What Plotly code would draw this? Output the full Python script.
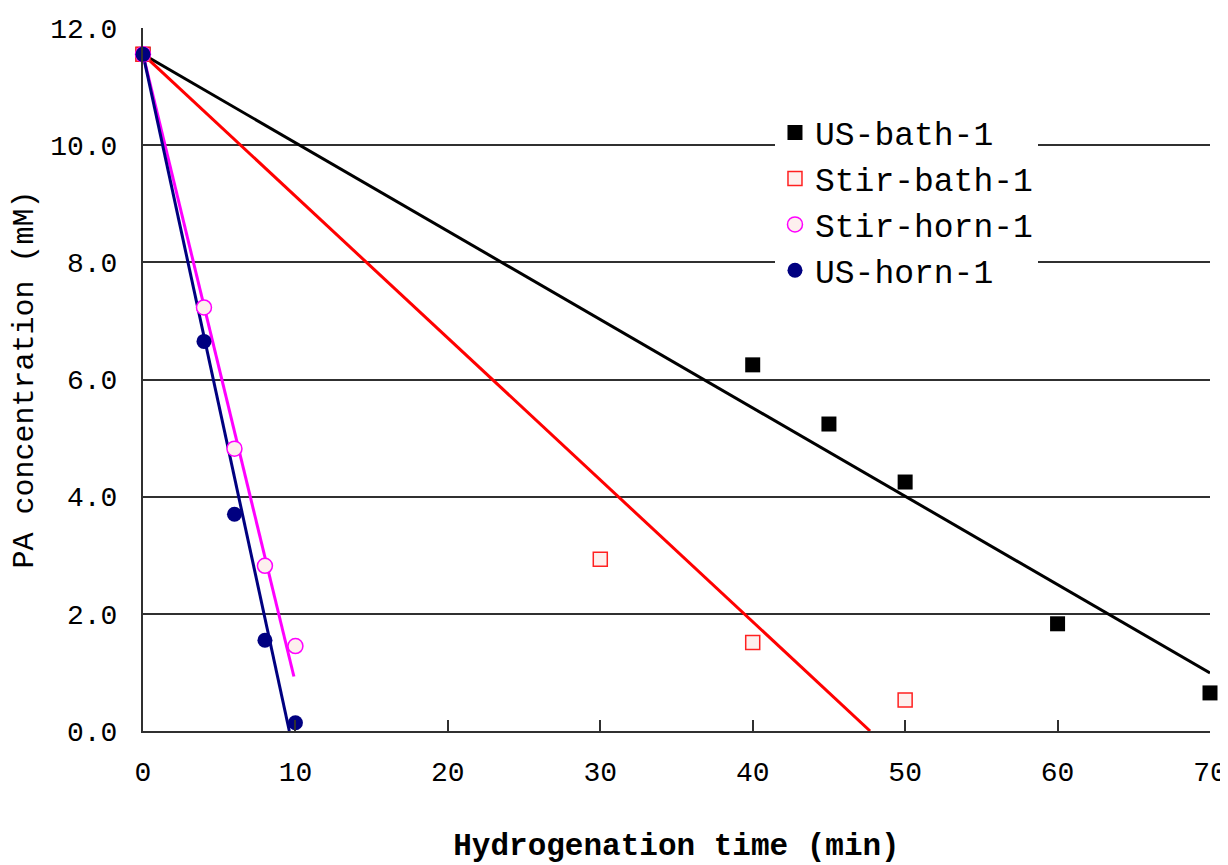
import plotly.graph_objects as go

# ---- data ----
us_bath_x = [0, 40, 45, 50, 60, 70]
us_bath_y = [11.55, 6.25, 5.24, 4.25, 1.83, 0.65]

stir_bath_x = [0, 30, 40, 50]
stir_bath_y = [11.55, 2.93, 1.51, 0.53]

stir_horn_x = [0, 4, 6, 8, 10]
stir_horn_y = [11.55, 7.23, 4.82, 2.82, 1.45]

us_horn_x = [0, 4, 6, 8, 10]
us_horn_y = [11.55, 6.65, 3.70, 1.55, 0.14]

# linear trend lines (end points)
us_bath_fit_x = [0, 70]
us_bath_fit_y = [11.55, 0.99]
stir_bath_fit_x = [0, 47.7]
stir_bath_fit_y = [11.55, 0.0]
stir_horn_fit_x = [0, 9.9]
stir_horn_fit_y = [11.55, 0.93]
us_horn_fit_x = [0, 9.6]
us_horn_fit_y = [11.55, 0.0]

x_ticks = [0, 10, 20, 30, 40, 50, 60, 70]
y_ticks = [0, 2, 4, 6, 8, 10, 12]
y_tick_text = ["0.0", "2.0", "4.0", "6.0", "8.0", "10.0", "12.0"]

series_names = ["US-bath-1", "Stir-bath-1", "Stir-horn-1", "US-horn-1"]

MONO = "Liberation Mono"
GRID = "#303030"

fig = go.Figure()

# trend lines
fits = [
    (us_bath_fit_x, us_bath_fit_y, "#000000"),
    (stir_bath_fit_x, stir_bath_fit_y, "#ff0000"),
    (stir_horn_fit_x, stir_horn_fit_y, "#ff00ff"),
    (us_horn_fit_x, us_horn_fit_y, "#000080"),
]
for fx, fy, c in fits:
    fig.add_trace(go.Scatter(x=fx, y=fy, mode="lines", showlegend=False,
                             hoverinfo="skip", line=dict(color=c, width=3)))

# markers
fig.add_trace(go.Scatter(
    x=us_bath_x, y=us_bath_y, mode="markers", name=series_names[0], cliponaxis=False,
    marker=dict(symbol="square", size=15, color="#000000", line=dict(width=0))))
fig.add_trace(go.Scatter(
    x=stir_bath_x, y=stir_bath_y, mode="markers", name=series_names[1], cliponaxis=False,
    marker=dict(symbol="square", size=14, color="#fdf0ee", line=dict(color="#ff2020", width=1.5))))
fig.add_trace(go.Scatter(
    x=stir_horn_x, y=stir_horn_y, mode="markers", name=series_names[2], cliponaxis=False,
    marker=dict(symbol="circle", size=15, color="#fdf0ee", line=dict(color="#ff00ff", width=1.5))))
fig.add_trace(go.Scatter(
    x=us_horn_x, y=us_horn_y, mode="markers", name=series_names[3], cliponaxis=False,
    marker=dict(symbol="circle", size=15, color="#000080", line=dict(width=0))))

fig.update_layout(
    width=1228, height=857,
    margin=dict(l=135, r=26, t=20, b=134, autoexpand=False),
    paper_bgcolor="white", plot_bgcolor="white",
    font=dict(family=MONO, color="black"),
    legend=dict(
        x=0.5923, y=0.891, xanchor="left", yanchor="top",
        bgcolor="white", borderwidth=0,
        font=dict(family=MONO, size=33, color="black"),
        itemsizing="trace",
    ),
    xaxis=dict(
        range=[0, 70], tickvals=x_ticks, ticktext=[str(v) for v in x_ticks],
        showgrid=False, zeroline=False,
        showline=True, linecolor=GRID, linewidth=2,
        ticks="inside", ticklen=11, tickwidth=1.5, tickcolor=GRID,
        tickfont=dict(family=MONO, size=28, color="black"),
        ticklabelstandoff=14,
        title=dict(text="<b>Hydrogenation time (min)</b>",
                   font=dict(family=MONO, size=31, color="black"), standoff=46),
        automargin=False,
    ),
    yaxis=dict(
        range=[0, 12], tickvals=y_ticks, ticktext=y_tick_text,
        showgrid=True, gridcolor=GRID, gridwidth=1.5,
        zeroline=False,
        showline=True, linecolor=GRID, linewidth=2,
        ticks="",
        tickfont=dict(family=MONO, size=28, color="black"),
        ticklabelstandoff=18,
        title=dict(text="PA concentration (mM)",
                   font=dict(family=MONO, size=30, color="black"), standoff=10),
        automargin=False,
    ),
)

fig.write_html("out.html")
